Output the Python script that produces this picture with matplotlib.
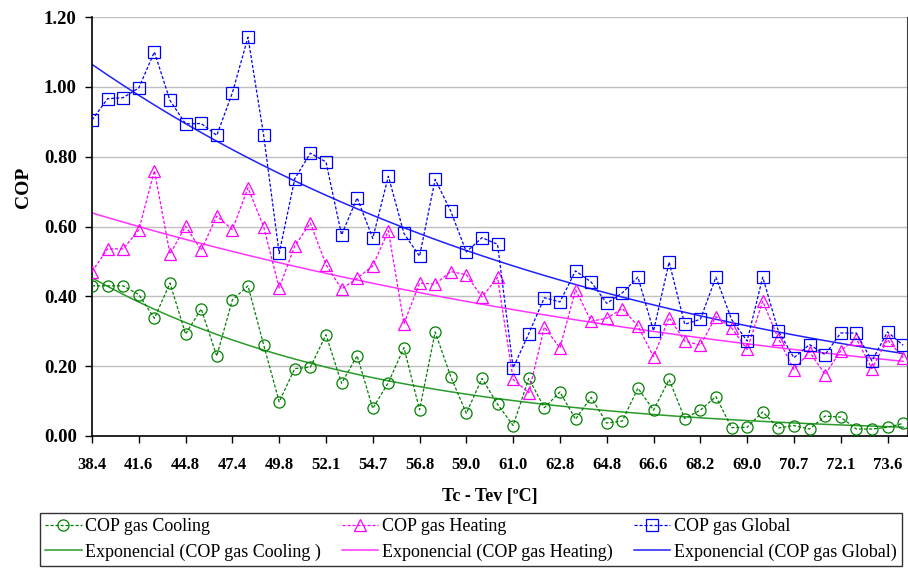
import numpy as np
import matplotlib
matplotlib.use('Agg')
import matplotlib.pyplot as plt

cop_cooling = [0.43, 0.43, 0.43, 0.405, 0.337, 0.438, 0.292, 0.364, 0.229, 0.39,
               0.43, 0.262, 0.098, 0.193, 0.197, 0.29, 0.151, 0.23, 0.079, 0.153,
               0.253, 0.075, 0.298, 0.17, 0.065, 0.165, 0.091, 0.03, 0.165, 0.081,
               0.126, 0.048, 0.111, 0.037, 0.043, 0.137, 0.074, 0.162, 0.05, 0.074,
               0.113, 0.024, 0.025, 0.069, 0.023, 0.03, 0.02, 0.057, 0.054, 0.02,
               0.02, 0.025, 0.036]
cop_heating = [0.471, 0.536, 0.536, 0.59, 0.76, 0.521, 0.601, 0.532, 0.63, 0.591,
               0.711, 0.60, 0.424, 0.544, 0.61, 0.491, 0.421, 0.452, 0.487, 0.588,
               0.322, 0.438, 0.435, 0.471, 0.462, 0.398, 0.454, 0.162, 0.124, 0.312,
               0.252, 0.419, 0.329, 0.337, 0.365, 0.315, 0.227, 0.339, 0.272, 0.26,
               0.342, 0.31, 0.248, 0.386, 0.279, 0.19, 0.241, 0.176, 0.244, 0.279,
               0.193, 0.276, 0.224]
cop_global = [0.905, 0.966, 0.969, 0.997, 1.10, 0.961, 0.894, 0.895, 0.861, 0.983,
              1.142, 0.863, 0.523, 0.737, 0.81, 0.785, 0.576, 0.682, 0.566, 0.744,
              0.58, 0.515, 0.735, 0.644, 0.527, 0.568, 0.549, 0.195, 0.293, 0.396,
              0.384, 0.473, 0.441, 0.38, 0.41, 0.455, 0.301, 0.498, 0.32, 0.334,
              0.455, 0.334, 0.272, 0.455, 0.301, 0.224, 0.262, 0.233, 0.295, 0.295,
              0.215, 0.298, 0.26]

# Tc - Tev labels shown on the axis (every third point)
tick_labels = ['38.4', '41.6', '44.8', '47.4', '49.8', '52.1', '54.7', '56.8', '59.0',
               '61.0', '62.8', '64.8', '66.6', '68.2', '69.0', '70.7', '72.1', '73.6']

plt.rcParams['font.family'] = 'Liberation Serif'


def expFit(y):
    # excel style exponential trendline, x = 1..n
    x = np.arange(1, len(y) + 1)
    b, lna = np.polyfit(x, np.log(y), 1)
    return np.exp(lna) * np.exp(b * x)


my_dpi = 100
fig = plt.figure(figsize=(908 / my_dpi, 569 / my_dpi), dpi=my_dpi)
ax = fig.add_axes([92 / 908, (569 - 436) / 569, (907 - 92) / 908, (436 - 17) / 569])

idx = np.arange(len(cop_global))
dash = (0, (2.5, 1.5))
series = [
    (cop_cooling, '#008000', 'o', 'COP gas Cooling', 'Exponencial (COP gas Cooling )', '#2a9a2a'),
    (cop_heating, '#ff00ff', '^', 'COP gas Heating', 'Exponencial (COP gas Heating)', '#ff33ff'),
    (cop_global, '#0000ff', 's', 'COP gas Global', 'Exponencial (COP gas Global)', '#2020ff'),
]
handles = []
for y, c, m, lab, tlab, tc in series:
    h1, = ax.plot(idx, y, linestyle=dash, color=c, linewidth=0.9, marker=m,
                  markersize=8, markerfacecolor='none', markeredgecolor=c,
                  markeredgewidth=0.9, label=lab, zorder=3)
    h2, = ax.plot(idx, expFit(np.array(y)), '-', color=tc, linewidth=1.1,
                  label=tlab, zorder=2)
    handles += [h1, h2]

ax.set_xlim(0, 52.25)
ax.set_ylim(0, 1.2)
ax.set_yticks(np.arange(0, 1.21, 0.2))
ax.set_yticklabels(['{:.2f}'.format(v) for v in np.arange(0, 1.21, 0.2)],
                   fontsize=13.5, fontweight='bold')
ax.set_xticks(idx[::3])
ax.set_xticklabels(tick_labels, fontsize=12, fontweight='bold')
ax.tick_params(direction='out', length=5, width=1, color='black')
ax.tick_params(axis='x', pad=10)
ax.tick_params(axis='y', pad=6)
ax.yaxis.grid(True, color='#c0c0c0', linewidth=1)
ax.set_axisbelow(True)
ax.spines['top'].set_visible(False)
ax.spines['right'].set_color('#404040')
ax.spines['left'].set_linewidth(1.2)
ax.spines['bottom'].set_linewidth(1.2)

ax.set_ylabel('COP', fontsize=14, fontweight='bold')
ax.yaxis.set_label_coords((32 - 92) / 815, (436 - 187) / 419)
ax.set_xlabel('Tc - Tev [ºC]', fontsize=13, fontweight='bold')
ax.xaxis.set_label_coords((490 - 92) / 815, (436 - 497) / 419)
ax.xaxis.label.set_va('center')

leg = fig.legend(handles=handles, loc='lower left', ncol=3, mode='expand',
                 bbox_to_anchor=(40 / 908, 3 / 569, 862 / 908, 54 / 569),
                 borderaxespad=0,
                 fontsize=13, frameon=True, fancybox=False, edgecolor='black',
                 handlelength=2.0, handletextpad=0.2, borderpad=0.3,
                 labelspacing=0.45, columnspacing=0.8)
leg.get_frame().set_linewidth(1.0)

fig.savefig('out.png', dpi=my_dpi)
plt.close('all')
